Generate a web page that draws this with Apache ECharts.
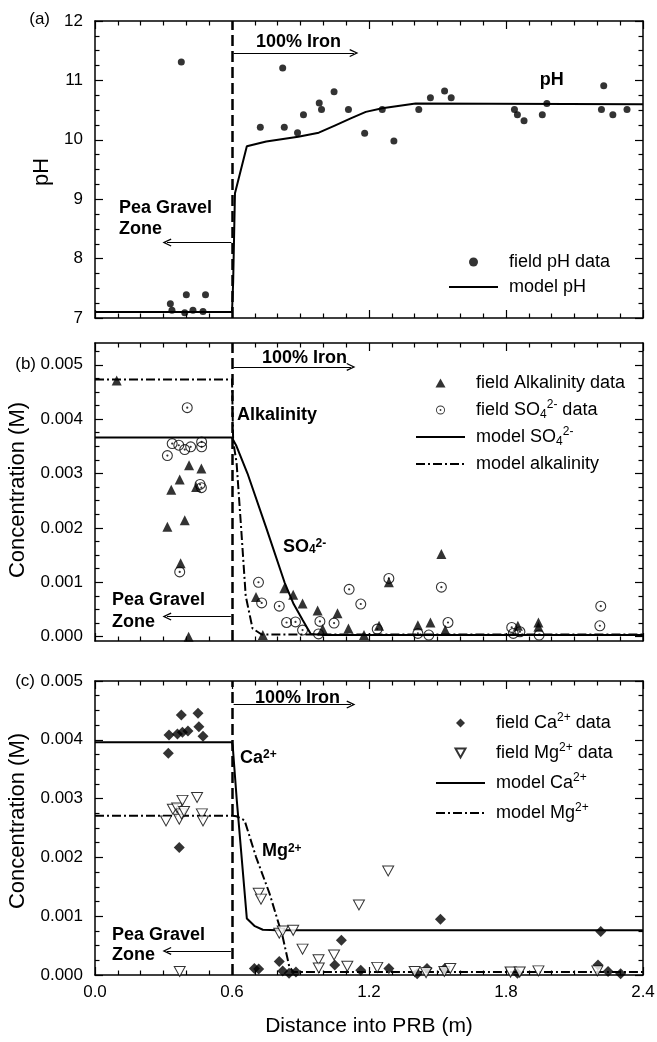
<!DOCTYPE html>
<html><head><meta charset="utf-8">
<script src="https://cdn.jsdelivr.net/npm/echarts@6/dist/echarts.min.js"></script>
<style>html,body{margin:0;padding:0;background:#fff}#c{width:657px;height:1042px}</style>
</head><body><div id="c"></div>
<script>
const FONT = '"Liberation Sans", Arial, Helvetica, sans-serif';

// ---------- tick labels ----------
const xTickValues = [0, 0.6, 1.2, 1.8, 2.4];
const phTickValues = [7, 8, 9, 10, 11, 12];
const concTickValues = [0, 0.001, 0.002, 0.003, 0.004, 0.005];

// ---------- panel (a): pH ----------
const phFieldX = [0.330,0.337,0.378,0.393,0.400,0.429,0.473,0.484,0.724,0.822,0.829,0.887,0.913,0.982,0.992,1.047,1.110,1.181,1.258,1.309,1.418,1.469,1.531,1.560,1.837,1.850,1.879,1.959,1.979,2.218,2.228,2.268,2.330];
const phFieldY = [7.24,7.13,11.31,7.09,7.39,7.13,7.11,7.39,10.21,11.21,10.21,10.12,10.42,10.62,10.51,10.81,10.51,10.11,10.51,9.98,10.51,10.71,10.82,10.71,10.51,10.42,10.32,10.42,10.61,10.51,10.91,10.42,10.51];
const phModelX = [0, 0.6, 0.605, 0.613, 0.665, 0.75, 0.89, 0.98, 1.05, 1.12, 1.186, 1.258, 1.404, 2.4];
const phModelY = [7.1, 7.1, 7.6, 9.1, 9.89, 9.97, 10.05, 10.12, 10.24, 10.36, 10.47, 10.53, 10.61, 10.6];

// ---------- panel (b): alkalinity & sulfate (M) ----------
const alkFieldX = [0.095,0.317,0.334,0.371,0.375,0.393,0.410,0.412,0.443,0.466,0.705,0.735,0.829,0.868,0.909,0.975,0.997,1.062,1.110,1.178,1.244,1.287,1.414,1.469,1.517,1.534,1.852,1.942,1.942];
const alkFieldY = [4.71e-3,2.02e-3,2.70e-3,2.89e-3,1.35e-3,2.14e-3,0.0,3.15e-3,2.75e-3,3.09e-3,0.73e-3,0.03e-3,0.89e-3,0.77e-3,0.61e-3,0.48e-3,0.14e-3,0.43e-3,0.15e-3,0.03e-3,0.20e-3,1.00e-3,0.21e-3,0.26e-3,1.52e-3,0.12e-3,0.20e-3,0.26e-3,0.18e-3];
const so4FieldX = [0.317,0.338,0.367,0.371,0.393,0.404,0.419,0.460,0.466,0.467,0.467,0.716,0.730,0.807,0.839,0.878,0.909,0.979,0.985,1.047,1.113,1.164,1.236,1.287,1.414,1.462,1.517,1.546,1.825,1.832,1.861,1.945,2.211,2.215];
const so4FieldY = [3.33e-3,3.55e-3,3.52e-3,1.19e-3,3.44e-3,4.21e-3,3.49e-3,2.80e-3,2.74e-3,3.58e-3,3.49e-3,1.00e-3,0.62e-3,0.56e-3,0.26e-3,0.27e-3,0.12e-3,0.05e-3,0.28e-3,0.25e-3,0.87e-3,0.60e-3,0.14e-3,1.07e-3,0.06e-3,0.03e-3,0.91e-3,0.26e-3,0.17e-3,0.06e-3,0.09e-3,0.03e-3,0.20e-3,0.56e-3];
const so4ModelX = [0, 0.6, 0.62, 0.668, 0.75, 0.83, 0.87, 0.91, 0.945, 1.0, 2.4];
const so4ModelY = [3.66e-3,3.66e-3,3.50e-3,3.00e-3,2.00e-3,1.00e-3,0.60e-3,0.30e-3,0.05e-3,0.03e-3,0.03e-3];
const alkModelX = [0, 0.6, 0.605, 0.62, 0.64, 0.66, 0.69, 0.73, 2.4];
const alkModelY = [4.73e-3,4.73e-3,3.60e-3,3.20e-3,2.00e-3,0.75e-3,0.15e-3,0.04e-3,0.04e-3];

// ---------- panel (c): calcium & magnesium (M) ----------
const caFieldX = [0.321,0.324,0.361,0.369,0.378,0.383,0.407,0.451,0.455,0.473,0.698,0.717,0.807,0.822,0.850,0.880,1.050,1.079,1.164,1.287,1.411,1.454,1.513,1.530,1.850,2.203,2.215,2.247,2.302];
const caFieldY = [3.77e-3,4.08e-3,4.10e-3,2.17e-3,4.42e-3,4.13e-3,4.15e-3,4.45e-3,4.22e-3,4.06e-3,0.11e-3,0.10e-3,0.23e-3,0.07e-3,0.03e-3,0.05e-3,0.17e-3,0.59e-3,0.08e-3,0.11e-3,0.02e-3,0.11e-3,0.95e-3,0.10e-3,0.03e-3,0.17e-3,0.74e-3,0.06e-3,0.02e-3];
const mgFieldX = [0.311,0.341,0.360,0.369,0.371,0.379,0.383,0.390,0.447,0.468,0.473,0.717,0.727,0.807,0.822,0.868,0.909,0.979,0.980,1.047,1.105,1.156,1.236,1.284,1.400,1.450,1.530,1.556,1.820,1.860,1.942,2.200];
const mgFieldY = [2.62e-3,2.82e-3,2.84e-3,2.65e-3,0.06e-3,2.74e-3,2.97e-3,2.78e-3,3.02e-3,2.74e-3,2.62e-3,1.39e-3,1.29e-3,0.71e-3,0.75e-3,0.76e-3,0.44e-3,0.26e-3,0.12e-3,0.34e-3,0.15e-3,1.19e-3,0.13e-3,1.77e-3,0.06e-3,0.04e-3,0.06e-3,0.11e-3,0.05e-3,0.05e-3,0.07e-3,0.07e-3];
const caModelX = [0, 0.6, 0.603, 0.621, 0.665, 0.70, 0.735, 0.80, 2.4];
const caModelY = [3.96e-3,3.96e-3,3.90e-3,2.97e-3,0.96e-3,0.83e-3,0.77e-3,0.76e-3,0.76e-3];
const mgModelX = [0, 0.6, 0.62, 0.655, 0.705, 0.764, 0.822, 0.851, 0.87, 0.90, 2.4];
const mgModelY = [2.71e-3,2.71e-3,2.70e-3,2.63e-3,2.01e-3,1.39e-3,0.65e-3,0.14e-3,0.05e-3,0.05e-3,0.05e-3];

// ---------- annotation anchors (data coordinates) ----------
const ironBoundary = 0.6;
const annotations = [
  {p:0, x:0.705, y:11.65, t:'100% Iron'},
  {p:0, x:2.0, y:11.01, t:'pH', align:'center'},
  {p:0, x:0.105, y:8.85, t:'Pea Gravel'},
  {p:0, x:0.105, y:8.50, t:'Zone'},
  {p:1, x:0.731, y:5.12e-3, t:'100% Iron'},
  {p:1, x:0.622, y:4.08e-3, t:'Alkalinity'},
  {p:1, x:0.823, y:1.65e-3, t:'SO{sub|4}{sup|2-}'},
  {p:1, x:0.074, y:0.67e-3, t:'Pea Gravel'},
  {p:1, x:0.074, y:0.27e-3, t:'Zone'},
  {p:2, x:0.701, y:4.71e-3, t:'100% Iron'},
  {p:2, x:0.635, y:3.69e-3, t:'Ca{sup|2+}'},
  {p:2, x:0.731, y:2.10e-3, t:'Mg{sup|2+}'},
  {p:2, x:0.074, y:0.68e-3, t:'Pea Gravel'},
  {p:2, x:0.074, y:0.34e-3, t:'Zone'}
];
const arrows = [
  // [panel, x0, x1, y]
  [0, 0.597, 0.315, 8.27], [0, 0.607, 1.134, 11.46],
  [1, 0.595, 0.315, 0.37e-3], [1, 0.607, 1.121, 4.96e-3],
  [2, 0.595, 0.315, 0.41e-3], [2, 0.607, 1.121, 4.60e-3]
];

const pts = (xs, ys) => xs.map((x, i) => [x, ys[i]]);
const BLACK = '#000';
const CHEVRON = 'path://M5,0L10,9L8.6,9.6L5,3L1.4,9.6L0,9Z';
const RING = 'path://M5,0A5,5,0,1,1,5,10A5,5,0,1,1,5,0ZM5,1A4,4,0,1,0,5,9A4,4,0,1,0,5,1ZM5,4A1,1,0,1,1,5,6A1,1,0,1,1,5,4Z';
const DOWNTRI = 'path://M0,0L10,0L5,9Z';
const UPTRI = 'path://M5,0L10,9L0,9Z';
const DIAMOND = 'path://M5,0L10,5L5,10L0,5Z';
const rich = {
  sub: {fontSize: 12, lineHeight: 12, verticalAlign: 'bottom', fontFamily: FONT, color: BLACK},
  sup: {fontSize: 12, lineHeight: 12, verticalAlign: 'top', fontFamily: FONT, color: BLACK}
};
const richBold = {
  sub: {fontSize: 12, lineHeight: 12, verticalAlign: 'bottom', fontFamily: FONT, fontWeight: 'bold', color: BLACK},
  sup: {fontSize: 12, lineHeight: 12, verticalAlign: 'top', fontFamily: FONT, fontWeight: 'bold', color: BLACK}
};

function xAxis(grid, pos, showLabel) {
  return {
    type: 'value', gridIndex: grid, position: pos, min: 0, max: 2.4, interval: 0.6,
    axisLine: {show: true, onZero: false, lineStyle: {color: BLACK, width: 1.5}},
    axisTick: {show: true, inside: true, length: 8, lineStyle: {color: BLACK, width: 1.2}},
    minorTick: {show: true, splitNumber: 6, length: 4.5, lineStyle: {color: BLACK, width: 1.2}},
    axisLabel: {show: showLabel, margin: 9, fontSize: 17, color: BLACK, fontFamily: FONT,
      customValues: xTickValues, formatter: v => v.toFixed(1)},
    splitLine: {show: false}, minorSplitLine: {show: false}
  };
}
function yAxis(grid, pos, showLabel, min, max, interval, digits) {
  return {
    type: 'value', gridIndex: grid, position: pos, min: min, max: max, interval: interval,
    axisLine: {show: true, onZero: false, lineStyle: {color: BLACK, width: 1.5}},
    axisTick: {show: true, inside: true, length: 8, lineStyle: {color: BLACK, width: 1.2}},
    minorTick: {show: true, splitNumber: 4, length: 4.5, lineStyle: {color: BLACK, width: 1.2}},
    axisLabel: {show: showLabel, margin: 12, fontSize: 17, color: BLACK, fontFamily: FONT,
      formatter: v => v.toFixed(digits)},
    splitLine: {show: false}, minorSplitLine: {show: false}
  };
}
const concMinor = [];
for (let k = 1; k <= 21; k++) { if (k % 4 !== 0) concMinor.push(k * 0.00025); }
function yAxisB(pos, major, showLabel) {
  return {
    type: 'value', gridIndex: 1, position: pos, min: -0.00008, max: 0.0054,
    axisLine: {show: major, onZero: false, lineStyle: {color: BLACK, width: 1.5}},
    axisTick: {show: true, inside: true, length: major ? 8 : 4.5, lineStyle: {color: BLACK, width: 1.2},
      customValues: major ? concTickValues : concMinor},
    axisLabel: {show: showLabel, margin: 12, fontSize: 17, color: BLACK, fontFamily: FONT,
      customValues: concTickValues, formatter: v => v.toFixed(3)},
    splitLine: {show: false}
  };
}

function boundaryAndArrows(panel) {
  const data = [{xAxis: ironBoundary, lineStyle: {type: [11, 5], width: 2.5, color: BLACK}}];
  arrows.filter(a => a[0] === panel).forEach(a => {
    data.push([
      {coord: [a[1], a[3]], symbol: 'none', lineStyle: {type: 'solid', width: 1, color: BLACK}},
      {coord: [a[2], a[3]], symbol: CHEVRON, symbolSize: [8, 9]}
    ]);
  });
  return {silent: true, symbol: ['none', 'none'], label: {show: false}, animation: false,
    lineStyle: {color: BLACK}, emphasis: {disabled: true}, data: data};
}

const legendNames = {
  'field SO4 data': 'field SO{sub|4}{sup|2-} data',
  'model SO4': 'model SO{sub|4}{sup|2-}',
  'field Ca data': 'field Ca{sup|2+} data',
  'field Mg data': 'field Mg{sup|2+} data',
  'model Ca': 'model Ca{sup|2+}',
  'model Mg': 'model Mg{sup|2+}'
};
const NOSYM = {color: 'rgba(0,0,0,0)', borderColor: 'rgba(0,0,0,0)', borderWidth: 0, opacity: 0};
function legend(items, left, top, gap) {
  return {
    data: items, left: left, top: top, orient: 'vertical', itemWidth: 49, itemHeight: 9,
    itemGap: gap, selectedMode: false, padding: 0,
    formatter: n => legendNames[n] || n,
    textStyle: {fontSize: 18, lineHeight: 22, color: BLACK, fontFamily: FONT, rich: rich, padding: [0, 0, 0, 6]}
  };
}

const DASHDOT = [9, 3, 2, 3];
const option = {
  animation: false,
  backgroundColor: '#fff',
  grid: [
    {left: 95, top: 21, width: 548, height: 297, containLabel: false, outerBoundsMode: 'none'},
    {left: 95, top: 343, width: 548, height: 298, containLabel: false, outerBoundsMode: 'none'},
    {left: 95, top: 681, width: 548, height: 294, containLabel: false, outerBoundsMode: 'none'}
  ],
  xAxis: [xAxis(0, 'bottom', false), xAxis(0, 'top', false), xAxis(1, 'bottom', false),
          xAxis(1, 'top', false), xAxis(2, 'bottom', true), xAxis(2, 'top', false)],
  yAxis: [yAxis(0, 'left', true, 7, 12, 1, 0), yAxis(0, 'right', false, 7, 12, 1, 0),
          yAxisB('left', true, true), yAxisB('left', false, false),
          yAxisB('right', true, false), yAxisB('right', false, false),
          yAxis(2, 'left', true, 0, 0.005, 0.001, 3), yAxis(2, 'right', false, 0, 0.005, 0.001, 3)],
  legend: [
    legend([{name: 'field pH data', icon: 'circle'}, {name: 'model pH', itemStyle: NOSYM}], 448, 251, 3),
    legend([{name: 'field Alkalinity data', icon: UPTRI}, {name: 'field SO4 data', icon: RING},
            {name: 'model SO4', itemStyle: NOSYM}, {name: 'model alkalinity', itemStyle: NOSYM}], 415, 372, 5),
    legend([{name: 'field Ca data', icon: DIAMOND}, {name: 'field Mg data', icon: DOWNTRI},
            {name: 'model Ca', itemStyle: NOSYM}, {name: 'model Mg', itemStyle: NOSYM}], 435, 712, 8)
  ],
  series: [
    {name: 'model pH', type: 'line', xAxisIndex: 0, yAxisIndex: 0, data: pts(phModelX, phModelY),
     symbol: 'none', lineStyle: {color: BLACK, width: 2}, itemStyle: {color: BLACK}, z: 3,
     markLine: boundaryAndArrows(0)},
    {name: 'field pH data', type: 'scatter', xAxisIndex: 0, yAxisIndex: 0, data: pts(phFieldX, phFieldY),
     symbol: 'circle', symbolSize: 7, itemStyle: {color: BLACK}, z: 4},

    {name: 'model SO4', type: 'line', xAxisIndex: 2, yAxisIndex: 2, data: pts(so4ModelX, so4ModelY),
     symbol: 'none', lineStyle: {color: BLACK, width: 2}, itemStyle: {color: BLACK}, z: 3,
     markLine: boundaryAndArrows(1)},
    {name: 'model alkalinity', type: 'line', xAxisIndex: 2, yAxisIndex: 2, data: pts(alkModelX, alkModelY),
     symbol: 'none', lineStyle: {color: BLACK, width: 2, type: DASHDOT}, itemStyle: {color: BLACK}, z: 3},
    {name: 'field Alkalinity data', type: 'scatter', xAxisIndex: 2, yAxisIndex: 2, data: pts(alkFieldX, alkFieldY),
     symbol: 'triangle', symbolSize: 10, itemStyle: {color: BLACK}, z: 4},
    {name: 'field SO4 data', type: 'scatter', xAxisIndex: 2, yAxisIndex: 2, data: pts(so4FieldX, so4FieldY),
     symbol: RING, symbolSize: 11, itemStyle: {color: BLACK}, z: 5},

    {name: 'model Ca', type: 'line', xAxisIndex: 4, yAxisIndex: 6, data: pts(caModelX, caModelY),
     symbol: 'none', lineStyle: {color: BLACK, width: 2}, itemStyle: {color: BLACK}, z: 3,
     markLine: boundaryAndArrows(2)},
    {name: 'model Mg', type: 'line', xAxisIndex: 4, yAxisIndex: 6, data: pts(mgModelX, mgModelY),
     symbol: 'none', lineStyle: {color: BLACK, width: 2, type: DASHDOT}, itemStyle: {color: BLACK}, z: 3},
    {name: 'field Ca data', type: 'scatter', xAxisIndex: 4, yAxisIndex: 6, data: pts(caFieldX, caFieldY),
     symbol: 'diamond', symbolSize: 11, itemStyle: {color: BLACK}, z: 4},
    {name: 'field Mg data', type: 'scatter', xAxisIndex: 4, yAxisIndex: 6, data: pts(mgFieldX, mgFieldY),
     symbol: DOWNTRI, symbolSize: [11, 10], itemStyle: {color: '#fff', borderColor: BLACK, borderWidth: 1}, z: 5}
  ]
};

const chart = echarts.init(document.getElementById('c'), null, {renderer: 'canvas'});
chart.setOption(option);

const panelAxes = [{xAxisIndex: 0, yAxisIndex: 0}, {xAxisIndex: 2, yAxisIndex: 2}, {xAxisIndex: 4, yAxisIndex: 6}];
const graphics = annotations.map(a => {
  const p = chart.convertToPixel(panelAxes[a.p], [a.x, a.y]);
  return {type: 'text', x: p[0], y: p[1], silent: true, z: 10,
    style: {text: a.t, fill: BLACK, fontSize: 18, fontWeight: 'bold', fontFamily: FONT,
      align: a.align || 'left', verticalAlign: 'middle', rich: richBold}};
});
const plain = (t, x, y, size, align, rot) => ({type: 'text', x: x, y: y, rotation: rot || 0, silent: true,
  style: {text: t, fill: BLACK, fontSize: size, fontFamily: FONT, align: align, verticalAlign: 'middle'}});
graphics.push(plain('(a)', 50, 19, 17, 'right'));
graphics.push(plain('(b)', 36, 364, 17, 'right'));
graphics.push(plain('(c)', 35, 681, 17, 'right'));
graphics.push(plain('pH', 42, 172, 22, 'center', Math.PI / 2));
graphics.push(plain('Concentration (M)', 18, 490, 22, 'center', Math.PI / 2));
graphics.push(plain('Concentration (M)', 18, 821, 22, 'center', Math.PI / 2));
graphics.push(plain('Distance into PRB (m)', 369, 1026, 21, 'center'));
chart.setOption({graphic: graphics});
</script></body></html>
